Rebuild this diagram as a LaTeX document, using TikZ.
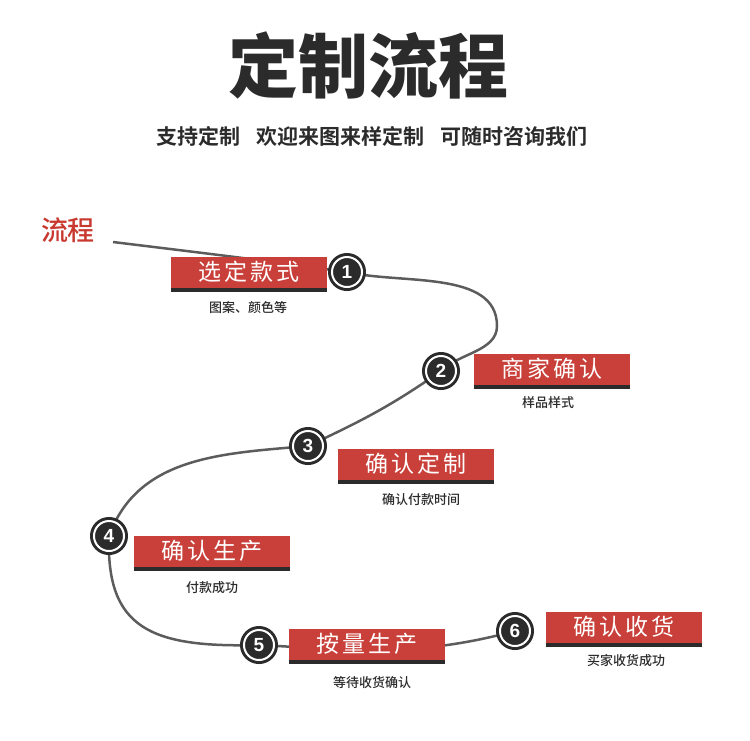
\documentclass[tikz,border=0pt]{standalone}
\usepackage{fontspec}
\setmainfont{Noto Sans CJK SC}
\newfontfamily\titlefont{Noto Sans CJK SC Black}
\newfontfamily\boldcjk{Noto Sans CJK SC Bold}
\newfontfamily\midcjk{Noto Sans CJK SC Medium}
\newfontfamily\numfont{Liberation Sans}
\usetikzlibrary{backgrounds}
\definecolor{stepred}{HTML}{C9403A}
\definecolor{ink}{HTML}{2B2B2B}
\definecolor{wire}{HTML}{5C5C5C}
\definecolor{headred}{HTML}{C8382E}
\tikzset{
  x=1pt,y=1pt,
  every node/.style={text=ink},
  stepbox/.style={fill=stepred,minimum width=156pt,minimum height=31pt,inner sep=0pt,
    text=white,font=\fontsize{23}{24}\selectfont},
  bar/.style={draw=ink,line width=4pt},
  num/.style={circle,fill=ink,minimum size=30pt,inner sep=0pt,draw=ink,line width=3pt,
    double=white,double distance=2pt,text=white,font=\numfont\bfseries\fontsize{19}{20}\selectfont},
  sub/.style={font=\midcjk\fontsize{13}{14}\selectfont},
  path/.style={draw=wire,line width=2.5pt},
}
\newcommand{\spaced}[1]{\addfontfeature{LetterSpace=12}#1}
\begin{document}
\begin{tikzpicture}
\useasboundingbox (0,0) rectangle (750,-740);

\node[font=\titlefont\fontsize{70}{74}\selectfont] (title) at (368,-65) {定制流程};
\node[font=\boldcjk\fontsize{21}{22}\selectfont] (slogan) at (372,-136) {支持定制\hspace{16pt}欢迎来图来样定制\hspace{16pt}可随时咨询我们};
\node[font=\midcjk\fontsize{27}{28}\selectfont,text=headred] (flow) at (68,-230) {流程};

% steps
\node[stepbox] (b1) at (249,-272) {\spaced{选定款式}};
\node[num] (c1) at (347,-272) {1};
\node[sub] (s1) at (248,-308) {图案、颜色等};

\node[stepbox] (b2) at (552,-369) {\spaced{商家确认}};
\node[num] (c2) at (441,-371) {2};
\node[sub] (s2) at (548,-403) {样品样式};

\node[stepbox] (b3) at (416,-464) {\spaced{确认定制}};
\node[num] (c3) at (308,-446) {3};
\node[sub] (s3) at (421,-500) {确认付款时间};

\node[stepbox] (b4) at (212,-551) {\spaced{确认生产}};
\node[num] (c4) at (109,-536) {4};
\node[sub] (s4) at (212,-588) {付款成功};

\node[stepbox] (b5) at (367,-644) {\spaced{按量生产}};
\node[num] (c5) at (259,-645) {5};
\node[sub] (s5) at (372,-683) {等待收货确认};

\node[stepbox] (b6) at (624,-627) {\spaced{确认收货}};
\node[num] (c6) at (515,-631) {6};
\node[sub] (s6) at (626,-661) {买家收货成功};

\foreach \b in {b1,b2,b3,b4,b5,b6}
  \draw[bar] ([yshift=-2pt]\b.south west) -- ([yshift=-2pt]\b.south east);

\coordinate (start) at (113,-242);
\coordinate (bend) at (497,-326);

\begin{scope}[on background layer]
\draw[path] (start) to[out=-7,in=172] (c1.center)
  to[out=-13,in=90,looseness=0.9] (bend)
  to[out=-90,in=45,looseness=0.9] (c2.center)
  to[out=215,in=25] (c3.center)
  to[out=185,in=70] (c4.center)
  .. controls (106,-628) and (150,-648) .. (c5.center)
  to[out=-3,in=195] (c6.center);
\end{scope}
\end{tikzpicture}
\end{document}
